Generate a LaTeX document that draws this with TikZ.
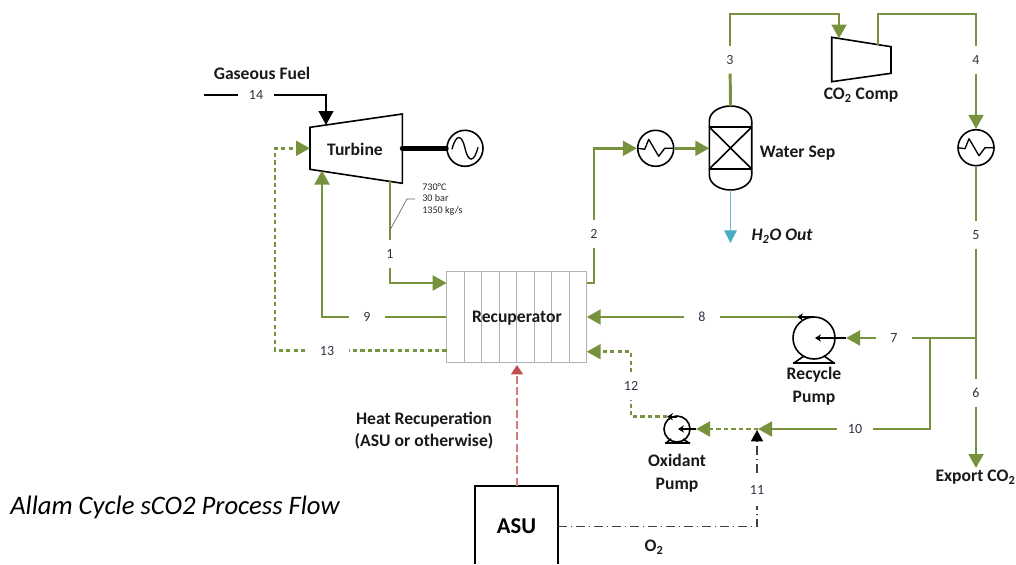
\documentclass[tikz,border=0pt]{standalone}
\usepackage{fontspec}
\setmainfont{Carlito}
\usetikzlibrary{arrows.meta,calc}
\definecolor{flowgreen}{HTML}{76923C}
\definecolor{waterblue}{HTML}{4BACC6}
\definecolor{heatred}{HTML}{C0504D}
\definecolor{numink}{HTML}{333344}
\tikzset{
  x=0.75pt,y=-0.75pt,
  flow/.style={draw=flowgreen,line width=2.2pt,line join=miter},
  flowtip/.style={-{Triangle[length=10.5pt,width=11pt]}},
  dots/.style={dash pattern=on 3.2pt off 2.4pt},
  fuel/.style={draw=black,line width=1.8pt},
  fueltip/.style={-{Triangle[length=10.5pt,width=11pt]}},
  equip/.style={draw=black,line width=1.2pt},
  roundeq/.style={circle,draw=black,line width=1.2pt,inner sep=0pt,fill=white},
  num/.style={text=numink,font=\fontsize{10.5pt}{12pt}\selectfont,inner sep=0pt,minimum width=27pt,minimum height=20pt},
  lab/.style={font=\fontsize{13.2pt}{17pt}\selectfont\bfseries,align=center,inner sep=0pt,text=black!90},
  o2line/.style={draw=black!75,line width=0.9pt,dash pattern=on 6.5pt off 3pt on 1pt off 3pt},
  thinarrow/.style={draw=black,line width=1.2pt,-{Stealth[length=4.5pt,width=5.5pt]}}
}
\newcommand{\hxglyph}[1]{\draw[line width=1pt,line join=round] ($(#1)+(-18,0)$) -- ($(#1)+(-11,1)$) -- ($(#1)+(-7,-9)$) -- ($(#1)+(3,8)$) -- ($(#1)+(9,0)$) -- ($(#1)+(18,0)$);}
\begin{document}
\begin{tikzpicture}
\useasboundingbox (0,0) rectangle (1016,564);
% --- equipment ---
\coordinate (tA) at (310,127.3); \coordinate (tB) at (402.3,114);
\coordinate (tC) at (402.3,183.3); \coordinate (tD) at (310,169.3);
\draw[equip] (tA) -- (tB) -- (tC) -- (tD) -- cycle;
\node[lab] (turbine) at (355,149.5) {Turbine};
\node[roundeq,minimum size=27pt] (gen) at (465,148.3) {};
\draw[line width=1pt] ($(gen)+(-13,1)$) .. controls ($(gen)+(-9,-15)$) and ($(gen)+(-3,-14)$) .. (gen.center) .. controls ($(gen)+(3,14)$) and ($(gen)+(9,15)$) .. ($(gen)+(13,-1)$);
\coordinate (shaft) at (402.3,148.3);
\draw[line width=3.8pt,line cap=round] (shaft) -- (gen.west);

\node[draw=black!30,line width=0.8pt,minimum width=105pt,minimum height=68.7pt,inner sep=0pt] (rec) at (516.7,317) {};
\foreach \dx in {-52.5,-35,-17.5,0,17.5,35,52.5}
  \draw[draw=black!30,line width=0.8pt] ($(rec.north)+(\dx,0)$) -- ($(rec.south)+(\dx,0)$);
\node[lab] (reclab) at (517,318) {Recuperator};

\node[roundeq,minimum size=27pt] (hx1) at (655.7,148.3) {};
\hxglyph{hx1}
\node[roundeq,minimum size=27pt] (hx2) at (976,147.7) {};
\hxglyph{hx2}

\coordinate (wL) at (709.3,127); \coordinate (wR) at (751.7,127);
\coordinate (wLb) at (709.3,169); \coordinate (wRb) at (751.7,169);
\coordinate (wT) at (730.5,106); \coordinate (wB) at (730.5,190);
\draw[equip] (wL) -- (wLb) -- (709.3,175) .. controls (709.3,184) and (720,190) .. (wB) .. controls (741,190) and (751.7,184) .. (751.7,175) -- (wRb) -- (wR) -- (751.7,121) .. controls (751.7,112) and (741,106) .. (wT) .. controls (720,106) and (709.3,112) .. (709.3,121) -- cycle;
\draw[equip] (wL) -- (wR) (wLb) -- (wRb) (wL) -- (wRb) (wLb) -- (wR);
\node[lab] (watersep) at (797.5,153.5) {Water Sep};

\coordinate (cA) at (831.7,37.3); \coordinate (cB) at (891,46.7);
\coordinate (cC) at (891,73.3); \coordinate (cD) at (831.7,81.7);
\draw[equip] (cA) -- (cB) -- (cC) -- (cD) -- cycle;
\node[lab] (co2comp) at (861,95.5) {CO\textsubscript{2} Comp};

\node[roundeq,minimum size=31.5pt] (rpump) at (814,338) {};
\draw[equip] ($(rpump)+(-21,25)$) -- ($(rpump)+(21,25)$) ($(rpump)+(-20,25)$) -- ($(rpump)+(-10,18)$) ($(rpump)+(20,25)$) -- ($(rpump)+(10,18)$);
\node[lab] (rpumplab) at (814,386.5) {Recycle\\Pump};

\node[roundeq,minimum size=19.5pt] (opump) at (677,429) {};
\draw[equip] ($(opump)+(-12,14)$) -- ($(opump)+(13,14)$) ($(opump)+(-11,14)$) -- ($(opump)+(-6,10)$) ($(opump)+(12,14)$) -- ($(opump)+(6,10)$);
\node[lab] (opumplab) at (677,473) {Oxidant\\Pump};

\node[inner sep=0pt,minimum width=62pt,minimum height=60pt,font=\fontsize{17pt}{20pt}\selectfont\bfseries] (asu) at (516.5,526.5) {ASU};
\draw[equip] (475,564) -- (475,485.7) -- (558,485.7) -- (558,564);

% --- stream numbers ---
\node[num] (n14) at (256,95) {14};
\node[num,minimum width=20pt] (n1) at (390,254) {1};
\node[num] (n2) at (594,234) {2};
\node[num] (n3) at (730,60) {3};
\node[num] (n4) at (976,60) {4};
\node[num] (n5) at (976,235) {5};
\node[num] (n6) at (976,393) {6};
\node[num] (n7) at (894,338) {7};
\node[num] (n8) at (702,317) {8};
\node[num] (n9) at (367,317) {9};
\node[num] (n10) at (855,429) {10};
\node[num,minimum height=25pt] (n11) at (757,489.5) {11};
\node[num] (n12) at (631,386) {12};
\node[num,minimum width=32pt] (n13) at (327,350.7) {13};

% --- free ends and bends ---
\coordinate (fuelS) at (204,95); \coordinate (fuelB) at (326,95); \coordinate (fuelE) at (326,125);
\coordinate (s13B) at (275,350.7); \coordinate (s13C) at (275,148.3); \coordinate (s13E) at (310,148.3);
\coordinate (s9B) at (322,317); \coordinate (s9E) at (322,170.5);
\coordinate (s1S) at (390,180); \coordinate (s1B) at (390,283); \coordinate (s1E) at (446.7,283);
\coordinate (s2S) at (586.7,283); \coordinate (s2A) at (594,283); \coordinate (s2B) at (594,148.3);
\coordinate (s3B) at (730,14); \coordinate (s3C) at (839,14); \coordinate (s3E) at (839,38.5);
\coordinate (s4S) at (878,44.7); \coordinate (s4A) at (878,14); \coordinate (s4B) at (976,14);
\coordinate (j1) at (976,338); \coordinate (s6E) at (976,468);
\coordinate (j2) at (930,338); \coordinate (s10B) at (930,429); \coordinate (j3) at (758,429);
\coordinate (s7E) at (846,338); \coordinate (rIn) at (815,338);
\coordinate (s8S) at (814,317); \coordinate (s8M) at (797,317);
\coordinate (s8E) at (586.7,317);
\coordinate (oIn) at (696,429); \coordinate (oInE) at (678,429);
\coordinate (s12S) at (677,416.7); \coordinate (s12M) at (667,416.7);
\coordinate (s12A) at (631,416.7); \coordinate (s12B) at (631,351.7); \coordinate (s12E) at (586.7,351.7);
\coordinate (s13S) at (446.7,350.7);
\coordinate (o2B) at (757,526.7); \coordinate (o2E) at (757,430);
\coordinate (o2S) at (558,526.7);
\coordinate (h2oE) at (730.5,243);
\coordinate (heatE) at (517,365); \coordinate (heatS) at (517,485.7);
\coordinate (legA) at (407,199); \coordinate (legB) at (415,199); \coordinate (legS) at (390,230);

% --- connectors ---
\draw[fuel] (fuelS) -- (n14);
\draw[fuel,fueltip] (n14) -- (n14-|fuelB) -- (fuelE);

\draw[flow] (rec.west) -- (n9);
\draw[flow,flowtip] (n9) -- (n9-|s9B) -- (s9E);
\draw[flow,dots] (s13S) -- (n13);
\draw[flow,dots,flowtip] (n13) -- (s13B) -- (s13C) -- (s13E);

\draw[flow] (s1S) -- (n1);
\draw[flow,flowtip] (n1) -- (s1B) -- (s1E);

\draw[flow] (s2S) -- (s2A) -- (n2);
\draw[flow,flowtip] (n2) -- (s2B) -- (hx1.west);
\draw[flow,flowtip] (hx1.east) -- (wL|-hx1.east);
\draw[flow] (wT) -- (n3);
\draw[flow,flowtip] (n3) -- (s3B) -- (s3C) -- (s3E);
\draw[flow] (s4S) -- (s4A) -- (s4B) -- (n4);
\draw[flow,flowtip] (n4) -- (hx2.north);
\draw[flow] (hx2.south) -- (n5);
\draw[flow] (n5) -- (n6);
\draw[flow,flowtip] (n6) -- (s6E);
\draw[flow] (j1) -- (n7);
\draw[flow,flowtip] (n7) -- (s7E);
\draw[flow] (j2) -- (s10B) -- (n10);
\draw[flow,flowtip] (n10) -- (j3);
\draw[flow,dots,flowtip] (j3) -- (oIn);
\draw[flow,flowtip] (n8) -- (s8E);
\draw[flow] (s8M) -- (n8);
\draw[flow,dots] (s12M) -- (s12A) -- (n12);
\draw[flow,dots,flowtip] (n12) -- (s12B) -- (s12E);

\draw[thinarrow] (s7E) -- (rIn);
\draw[thinarrow] (s8S) -- (s8M);
\draw[thinarrow] (oIn) -- (oInE);
\draw[thinarrow] (s12S) -- (s12M);

\draw[waterblue!80,line width=0.8pt,-{Triangle[length=9.5pt,width=9.5pt,color=waterblue]}] (wB) -- (h2oE);
\draw[heatred!75,line width=0.8pt,dash pattern=on 6pt off 2.5pt,-{Triangle[length=7pt,width=9pt,color=heatred]}] (heatS) -- (heatE);
\draw[o2line] (o2S) -- (o2B) -- (n11);
\draw[o2line,-{Triangle[length=8.5pt,width=9pt,color=black]}] (n11) -- (o2E);
\draw[black!60,line width=0.5pt] (legS) -- (legA) -- (legB);

% --- other labels ---
\node[lab] (fuellab) at (262,73) {Gaseous Fuel};
\node[anchor=west,inner sep=0pt,font=\fontsize{7.6pt}{8.6pt}\selectfont,align=left,text=black!85] (cond) at (422,199) {730°C\\30 bar\\1350 kg/s};
\node[lab,font=\fontsize{13.2pt}{17pt}\selectfont\bfseries\itshape] (h2o) at (782,236) {H\textsubscript{2}O Out};
\node[lab] (heatlab) at (424,430.5) {Heat Recuperation\\(ASU or otherwise)};
\node[lab] (o2lab) at (654,547) {O\textsubscript{2}};
\node[lab] (exportlab) at (975.5,477.5) {Export CO\textsubscript{2}};
\node[anchor=west,inner sep=0pt,font=\fontsize{20pt}{24pt}\selectfont\itshape] (title) at (10,507.5) {Allam Cycle sCO2 Process Flow};
\end{tikzpicture}
\end{document}
